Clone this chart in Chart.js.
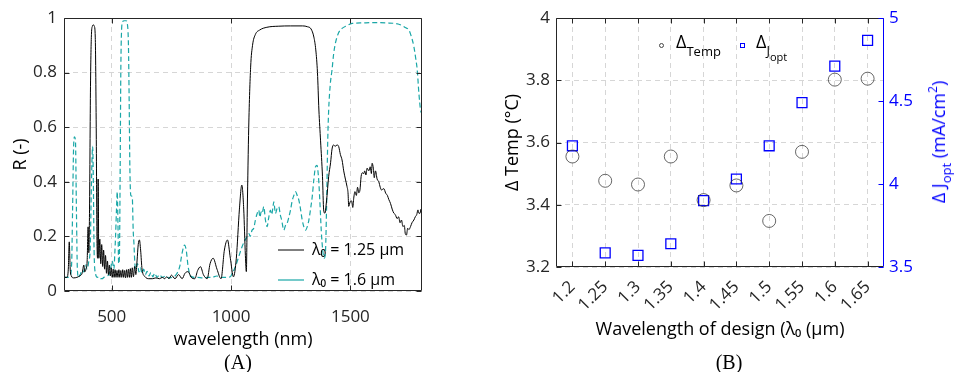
<!DOCTYPE html>
<html>
<head>
<meta charset="utf-8">
<script src="https://cdn.jsdelivr.net/npm/chart.js@4.4.1/dist/chart.umd.min.js"></script>
<style>
  html, body { margin: 0; padding: 0; background: #fff; }
  #wrap { position: relative; width: 954px; height: 372px; overflow: hidden; font-family: "Open Sans", "DejaVu Sans", sans-serif; }
  canvas { position: absolute; top: 0; }
  .abs { position: absolute; white-space: nowrap; }
  .cap { font-family: "Liberation Serif", "DejaVu Serif", serif; font-size: 20px; line-height: 20px; transform: translate(-50%, -50%); color: #000; }
  .lgt { font-size: 18px; line-height: 20px; color: #000; }
  .lgt sub { line-height: 0; }
</style>
</head>
<body>
<div id="wrap">
  <canvas id="cA" width="477" height="372" style="left:0px"></canvas>
  <canvas id="cB" width="477" height="372" style="left:477px"></canvas>
  <div class="abs cap" style="left:238px; top:362px;">(A)</div>
  <div class="abs cap" style="left:729px; top:362px;">(B)</div>
  <!-- legend of panel B -->
  <div class="abs" style="left:659px; top:43px; width:3px; height:3px; border:1px solid #444; border-radius:50%;"></div>
  <div class="abs lgt" style="left:676px; top:31px;">Δ<sub style="font-size:13px; vertical-align:-8px;">Temp</sub></div>
  <div class="abs" style="left:740px; top:43px; width:3px; height:3px; border:1px solid #0000ff;"></div>
  <div class="abs lgt" style="left:756px; top:31px;">Δ<sub style="font-size:13px; vertical-align:-7px;">J<sub style="font-size:11px; vertical-align:-6px;">opt</sub></sub></div>
  <!-- right axis title of panel B -->
  <div class="abs" style="left:938px; top:142px; transform: translate(-50%, -50%) rotate(-90deg); font-size:18px; line-height:18px; color:#0000ff;">Δ J<sub style="font-size:13px; vertical-align:-6px; line-height:0;">opt</sub> (mA/cm<sup style="font-size:12px; vertical-align:8px; line-height:0;">2</sup>)</div>
</div>
<script>
// ---------------- Panel A data: reflectance spectra ----------------
const wl125 = [300,312,318,322,326,331,340,354,365,376,383,387,392,397,401,404,407,411,415,419,423,427,431,435,438,441,443,446,450,454,458,462,466,470,474,478,482,486,490,494,498,502,506,510,514,518,522,526,530,534,538,542,546,550,554,558,562,566,570,574,578,582,586,591,596,601,606,611,616,621,627,640,655,670,685,700,712,722,730,740,750,765,780,795,807,820,833,848,860,872,884,900,912,925,941,958,972,985,997,1010,1022,1035,1045,1053,1060,1064,1068,1074,1082,1090,1102,1120,1150,1200,1250,1300,1320,1335,1347,1355,1362,1368,1375,1383,1388,1393,1400,1409,1417,1423,1430,1436,1444,1451,1458,1465,1472,1479,1486,1490,1493,1499,1505,1510,1514,1519,1525,1530,1535,1540,1545,1550,1556,1560,1565,1570,1577,1583,1588,1591,1596,1600,1605,1612,1619,1625,1630,1640,1648,1655,1661,1668,1675,1682,1688,1696,1702,1708,1714,1720,1726,1730,1735,1740,1745,1752,1758,1766,1772,1778,1783,1787,1792,1796,1800];
const refl125 = [0.05,0.05,0.08,0.18,0.08,0.055,0.048,0.05,0.055,0.065,0.095,0.07,0.08,0.11,0.235,0.14,0.3,0.75,0.94,0.97,0.975,0.97,0.93,0.6,0.2,0.12,0.41,0.12,0.19,0.1,0.17,0.09,0.15,0.08,0.13,0.065,0.11,0.06,0.095,0.055,0.085,0.05,0.08,0.05,0.078,0.05,0.075,0.05,0.078,0.05,0.075,0.05,0.078,0.05,0.075,0.048,0.078,0.05,0.08,0.05,0.082,0.05,0.085,0.052,0.09,0.06,0.11,0.17,0.187,0.15,0.08,0.052,0.045,0.045,0.048,0.045,0.05,0.045,0.052,0.045,0.058,0.045,0.06,0.045,0.065,0.071,0.05,0.045,0.075,0.089,0.06,0.045,0.1,0.12,0.08,0.045,0.15,0.187,0.12,0.052,0.12,0.3,0.388,0.3,0.13,0.071,0.3,0.6,0.82,0.9,0.94,0.956,0.966,0.97,0.971,0.971,0.968,0.96,0.93,0.883,0.8,0.663,0.55,0.42,0.297,0.285,0.33,0.42,0.47,0.52,0.535,0.53,0.535,0.529,0.5,0.48,0.44,0.41,0.382,0.36,0.31,0.327,0.33,0.306,0.34,0.364,0.35,0.38,0.36,0.37,0.42,0.433,0.43,0.44,0.425,0.45,0.44,0.455,0.43,0.468,0.45,0.415,0.44,0.41,0.4,0.38,0.37,0.375,0.358,0.35,0.335,0.321,0.3,0.285,0.28,0.265,0.272,0.25,0.26,0.236,0.24,0.21,0.205,0.23,0.225,0.236,0.25,0.26,0.272,0.28,0.297,0.285,0.285,0.3,0.28,0.3];

const wl160 = [300,315,325,332,336,340,344,348,352,356,361,368,376,383,390,397,404,410,414,418,420,423,426,432,440,446,453,460,467,474,481,488,495,502,509,513,516,520,523,526,529,532,535,538,541,545,552,560,566,570,573,576,580,586,590,593,597,602,608,614,620,627,634,641,648,656,664,672,680,690,700,712,725,740,755,770,785,795,805,812,820,830,845,860,880,900,920,940,960,980,997,1005,1018,1030,1046,1055,1067,1075,1080,1088,1095,1102,1108,1116,1121,1126,1130,1137,1144,1151,1158,1165,1170,1176,1179,1186,1192,1200,1206,1212,1221,1228,1235,1242,1249,1256,1263,1270,1277,1284,1291,1298,1305,1312,1319,1326,1333,1340,1347,1354,1360,1366,1372,1378,1384,1390,1395,1400,1405,1409,1416,1423,1430,1437,1450,1465,1485,1507,1550,1600,1650,1700,1717,1730,1745,1756,1766,1774,1780,1787,1794,1800];
const refl160 = [0.05,0.05,0.055,0.1,0.3,0.52,0.565,0.55,0.3,0.08,0.05,0.06,0.076,0.07,0.095,0.08,0.11,0.16,0.35,0.5,0.53,0.4,0.15,0.064,0.05,0.052,0.045,0.045,0.05,0.052,0.055,0.06,0.08,0.11,0.08,0.14,0.2,0.3,0.364,0.25,0.1,0.12,0.4,0.8,0.95,0.985,0.99,0.99,0.975,0.9,0.7,0.45,0.35,0.345,0.22,0.175,0.1,0.08,0.1,0.07,0.085,0.065,0.08,0.06,0.072,0.055,0.068,0.052,0.065,0.05,0.06,0.05,0.055,0.048,0.05,0.06,0.09,0.14,0.168,0.15,0.09,0.055,0.05,0.05,0.048,0.05,0.05,0.055,0.05,0.05,0.052,0.065,0.089,0.12,0.162,0.18,0.199,0.21,0.2,0.223,0.23,0.26,0.28,0.296,0.27,0.29,0.284,0.309,0.26,0.236,0.27,0.296,0.28,0.31,0.327,0.284,0.3,0.309,0.28,0.26,0.223,0.24,0.248,0.27,0.296,0.33,0.35,0.364,0.35,0.333,0.3,0.26,0.235,0.223,0.235,0.26,0.3,0.345,0.41,0.455,0.46,0.42,0.33,0.22,0.15,0.12,0.135,0.3,0.55,0.663,0.76,0.81,0.87,0.907,0.945,0.962,0.972,0.98,0.982,0.983,0.982,0.978,0.972,0.965,0.956,0.93,0.895,0.85,0.81,0.724,0.663,0.65];

const xTicksA = [500, 1000, 1500];
const yTicksA = [0, 0.2, 0.4, 0.6, 0.8, 1];
const seriesNamesA = ['λ₀ = 1.25 μm', 'λ₀ = 1.6 μm'];

// ---------------- Panel B data ----------------
const designLabels = ['1.2','1.25','1.3','1.35','1.4','1.45','1.5','1.55','1.6','1.65'];
const deltaTemp = [3.555, 3.477, 3.465, 3.555, 3.415, 3.462, 3.348, 3.570, 3.802, 3.805];
const deltaJopt = [4.23, 3.585, 3.57, 3.64, 3.90, 4.03, 4.23, 4.49, 4.71, 4.865];
const yTicksTemp = [3.2, 3.4, 3.6, 3.8, 4];
const yTicksJ = [3.5, 4, 4.5, 5];

const GRID = '#d6d6d6';
const AXIS = '#262626';
const FONT = '"Open Sans", "DejaVu Sans", sans-serif';

// frame + inward tick marks (drawn through the chart's own scales)
const framePlugin = {
  id: 'frame',
  afterDatasetsDraw(chart, args, opts) {
    const ca = chart.chartArea, c = chart.ctx;
    const L = Math.round(ca.left) + 0.5, R = Math.round(ca.right) - 0.5;
    const T = Math.round(ca.top) + 0.5, B = Math.round(ca.bottom) - 0.5;
    c.save();
    c.lineWidth = 1;
    c.strokeStyle = opts.color;
    c.beginPath();
    c.moveTo(R, T); c.lineTo(L, T); c.lineTo(L, B); c.lineTo(R, B);
    c.stroke();
    c.strokeStyle = opts.rightColor || opts.color;
    c.beginPath(); c.moveTo(R, T); c.lineTo(R, B); c.stroke();
    const tl = 5;
    const xs = chart.scales.x;
    c.strokeStyle = opts.color;
    xs.ticks.forEach((t, i) => {
      const px = Math.round(xs.getPixelForTick(i)) + 0.5;
      c.beginPath(); c.moveTo(px, B); c.lineTo(px, B - tl); c.stroke();
      c.beginPath(); c.moveTo(px, T); c.lineTo(px, T + tl); c.stroke();
    });
    const ys = chart.scales.y;
    ys.ticks.forEach((t, i) => {
      const py = Math.round(ys.getPixelForTick(i)) + 0.5;
      c.beginPath(); c.moveTo(L, py); c.lineTo(L + tl, py); c.stroke();
      if (!chart.scales.y1) { c.beginPath(); c.moveTo(R, py); c.lineTo(R - tl, py); c.stroke(); }
    });
    if (chart.scales.y1) {
      const y1 = chart.scales.y1;
      c.strokeStyle = opts.rightColor;
      y1.ticks.forEach((t, i) => {
        const py = Math.round(y1.getPixelForTick(i)) + 0.5;
        c.beginPath(); c.moveTo(R, py); c.lineTo(R - tl, py); c.stroke();
      });
    }
    c.restore();
  }
};

// place the legend of panel A inside the plot, lower right
const placeLegend = {
  id: 'placeLegend',
  beforeDraw(chart, args, opts) {
    const lg = chart.legend;
    if (!lg) return;
    const w = lg.width;
    lg.left = opts.left; lg.top = opts.top;
    lg.right = opts.left + Math.max(w, 150);
    lg.bottom = opts.top + 300;
  }
};

const toXY = (xs, ys) => xs.map((x, i) => ({ x: x, y: ys[i] }));

new Chart(document.getElementById('cA'), {
  type: 'line',
  data: {
    datasets: [
      { label: seriesNamesA[0], data: toXY(wl125, refl125), borderColor: '#000000', borderWidth: 1,
        pointRadius: 0, cubicInterpolationMode: 'monotone', fill: false },
      { label: seriesNamesA[1], data: toXY(wl160, refl160), borderColor: '#1aa7a7', borderWidth: 1.2,
        borderDash: [5, 3], pointRadius: 0, cubicInterpolationMode: 'monotone', fill: false }
    ]
  },
  options: {
    responsive: false, animation: false, devicePixelRatio: 1,
    layout: { padding: { top: 18, right: 55, left: 0, bottom: 0 } },
    scales: {
      x: {
        type: 'linear', min: 300, max: 1800,
        afterBuildTicks: s => { s.ticks = xTicksA.map(v => ({ value: v })); },
        afterFit: s => { s.height = 81; },
        grid: { color: GRID, drawTicks: false },
        border: { display: false, dash: [5, 4] },
        ticks: { font: { family: FONT, size: 17 }, color: AXIS, padding: 16, maxRotation: 0, callback: v => String(v) },
        title: { display: true, text: 'wavelength (nm)', font: { family: FONT, size: 18 }, color: '#000', padding: { top: 0, bottom: 21 } }
      },
      y: {
        min: 0, max: 1,
        afterBuildTicks: s => { s.ticks = yTicksA.map(v => ({ value: v })); },
        afterFit: s => { s.width = 64; },
        grid: { color: GRID, drawTicks: false },
        border: { display: false, dash: [5, 4] },
        ticks: { font: { family: FONT, size: 17 }, color: AXIS, padding: 7, callback: v => String(v) },
        title: { display: true, text: 'R (-)', font: { family: FONT, size: 18 }, color: '#000', padding: { top: 10, bottom: 0 } }
      }
    },
    plugins: {
      legend: {
        position: 'chartArea', align: 'start',
        labels: { usePointStyle: true, pointStyle: 'line', pointStyleWidth: 26, padding: 14,
                  font: { family: FONT, size: 16 }, color: '#000' }
      },
      tooltip: { enabled: false },
      frame: { color: AXIS },
      placeLegend: { left: 264, top: 228 }
    }
  },
  plugins: [framePlugin, placeLegend]
});

new Chart(document.getElementById('cB'), {
  type: 'line',
  data: {
    labels: designLabels,
    datasets: [
      { label: 'ΔTemp', data: deltaTemp, yAxisID: 'y', showLine: false, pointStyle: 'circle', pointRadius: 6.5,
        pointBorderColor: '#404040', pointBackgroundColor: 'rgba(0,0,0,0)', pointBorderWidth: 0.8 },
      { label: 'ΔJopt', data: deltaJopt, yAxisID: 'y1', showLine: false, pointStyle: 'rect', pointRadius: 7,
        pointBorderColor: '#0000ff', pointBackgroundColor: 'rgba(0,0,0,0)', pointBorderWidth: 1.3 }
    ]
  },
  options: {
    responsive: false, animation: false, devicePixelRatio: 1,
    layout: { padding: { top: 18, right: 0, left: 0, bottom: 0 } },
    scales: {
      x: {
        type: 'category', offset: true,
        afterFit: s => { s.height = 105; },
        grid: { color: GRID, drawTicks: false, offset: false },
        border: { display: false, dash: [5, 4] },
        ticks: { font: { family: FONT, size: 17 }, color: AXIS, padding: 10, minRotation: 45, maxRotation: 45, autoSkip: false },
        title: { display: true, text: 'Wavelength of design (λ₀ (μm)', font: { family: FONT, size: 18 }, color: '#000', padding: { top: 0, bottom: 31 } }
      },
      y: {
        position: 'left', min: 3.2, max: 4,
        afterBuildTicks: s => { s.ticks = yTicksTemp.map(v => ({ value: v })); },
        afterFit: s => { s.width = 79; },
        grid: { color: GRID, drawTicks: false },
        border: { display: false, dash: [5, 4] },
        ticks: { font: { family: FONT, size: 17 }, color: AXIS, padding: 6, callback: v => String(v) },
        title: { display: true, text: 'Δ Temp (°C)', font: { family: FONT, size: 18 }, color: '#000', padding: { top: 25, bottom: 0 } }
      },
      y1: {
        position: 'right', min: 3.5, max: 5,
        afterBuildTicks: s => { s.ticks = yTicksJ.map(v => ({ value: v })); },
        afterFit: s => { s.width = 70; },
        grid: { drawOnChartArea: false, drawTicks: false },
        border: { display: false },
        ticks: { font: { family: FONT, size: 17 }, color: '#0000ff', padding: 5, callback: v => String(v) }
      }
    },
    plugins: {
      legend: { display: false },
      tooltip: { enabled: false },
      frame: { color: AXIS, rightColor: '#0000ff' }
    }
  },
  plugins: [framePlugin]
});
</script>
</body>
</html>
